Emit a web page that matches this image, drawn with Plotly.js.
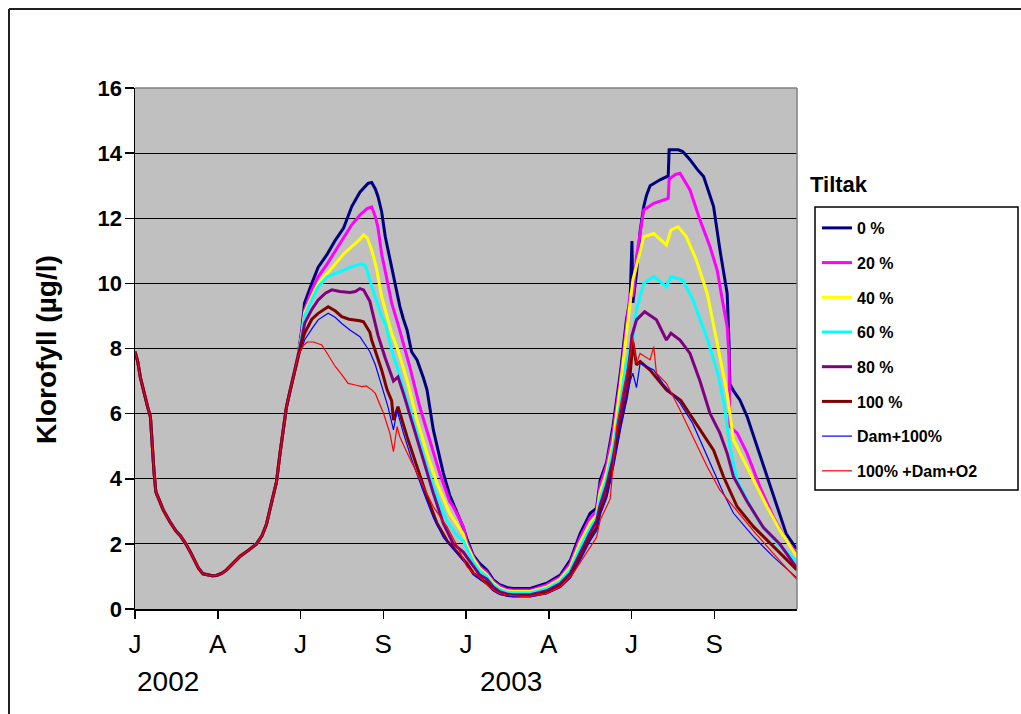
<!DOCTYPE html>
<html>
<head>
<meta charset="utf-8">
<script src="https://cdn.plot.ly/plotly-3.0.1.min.js"></script>
<style>
  html, body { margin: 0; padding: 0; background: #ffffff; }
  #chart { width: 1021px; height: 714px; }
</style>
</head>
<body>
<div id="chart"></div>
<script>
// ---- Data (day index from 1 Jan 2002; values in µg/l) ----
// Shared start (all scenarios identical before divergence)
const earlyDays = [0,3,6,10,14,17,19,21,23,27,31,38,45,50,56,62,66,70,75,80,85,90,96,101,108,116,125,134,140,145,150,156,160,164,167,171,176,180];
const earlyVals = [7.9,7.6,7.1,6.6,6.2,5.9,5.0,4.2,3.6,3.3,3.05,2.7,2.4,2.25,2.0,1.7,1.45,1.25,1.08,1.04,1.02,1.03,1.1,1.2,1.4,1.62,1.8,2.0,2.25,2.6,3.2,3.9,4.8,5.6,6.2,6.7,7.3,7.8];

const days0 = [184,187,195,202,212,221,230,239,248,257,261,265,268,272,276,282,287,292,296,300,305,311,318,322,329,333,340,347,355,362,366,373,380,388,395,402,410,417,436,454,469,480,491,502,509,513,520,527,535,542,546,548,549,553,557,561,564,568,579,588,589,599,604,612,620,627,634,638,645,647,653,655,656,660,667,675,686,697,708,718,728,730];
const vals0 = [8.6,9.4,10.0,10.5,10.9,11.33,11.7,12.36,12.8,13.07,13.1,12.9,12.66,12.2,11.43,10.6,9.9,9.3,8.9,8.57,7.9,7.65,7.1,6.73,5.5,5.0,4.17,3.5,2.95,2.5,2.15,1.65,1.4,1.2,0.9,0.75,0.66,0.63,0.63,0.79,1.04,1.5,2.32,2.94,3.1,3.96,4.5,5.6,7.2,8.9,9.5,11.3,9.4,10.31,11.6,12.36,12.7,13.0,13.18,13.3,14.1,14.1,14.05,13.8,13.5,13.28,12.7,12.36,11.03,10.72,9.69,8.2,6.9,6.7,6.42,5.91,4.98,4.06,3.14,2.32,1.9,1.85];

const days20 = [184,187,195,202,212,221,230,239,248,256,261,265,268,272,278,283,290,294,298,303,314,325,336,347,351,362,366,373,380,388,395,402,410,417,436,454,469,480,491,502,509,513,520,527,535,542,546,549,553,561,572,588,589,596,601,612,623,634,642,647,653,655,656,664,675,689,704,718,730];
const vals20 = [8.5,9.18,9.8,10.2,10.6,11.0,11.4,11.8,12.1,12.3,12.35,12.05,11.7,10.9,10.1,9.4,8.75,8.36,7.95,7.44,6.21,5.19,4.17,3.3,3.14,2.53,2.05,1.6,1.3,1.12,0.85,0.7,0.6,0.58,0.58,0.74,0.98,1.4,2.2,2.8,3.0,3.8,4.4,5.4,7.0,8.7,9.7,9.6,10.82,12.25,12.46,12.61,13.2,13.35,13.38,12.87,11.95,11.13,10.4,9.6,8.67,7.75,5.6,5.4,4.78,3.76,2.83,2.12,1.71];

const days40 = [184,187,195,202,212,221,230,239,248,252,256,261,266,272,278,283,290,294,301,311,322,333,347,355,362,366,373,380,388,395,402,410,417,436,454,469,480,491,502,509,513,520,527,535,542,549,561,572,586,591,599,608,619,631,642,653,660,671,682,697,711,730];
const vals40 = [8.4,9.09,9.6,10.0,10.3,10.6,10.9,11.13,11.35,11.49,11.4,11.03,10.5,9.59,9.0,8.47,7.95,7.6,6.93,5.8,4.78,3.86,2.94,2.6,2.3,1.95,1.55,1.25,1.05,0.8,0.65,0.56,0.54,0.54,0.68,0.92,1.3,2.05,2.65,2.9,3.6,4.2,5.1,6.8,8.5,10.1,11.43,11.53,11.18,11.64,11.74,11.43,10.72,9.69,8.16,6.62,5.19,4.58,3.96,3.14,2.43,1.6];

const days60 = [184,187,195,202,212,221,230,239,250,254,259,265,272,276,283,290,300,311,322,333,344,355,362,366,373,380,388,395,402,410,417,436,454,469,480,491,502,509,513,520,527,535,542,549,553,561,572,586,591,604,615,631,642,649,653,656,664,675,689,708,730];
const vals60 = [8.4,9.0,9.5,9.9,10.2,10.31,10.4,10.51,10.6,10.55,10.1,9.6,8.98,8.77,7.95,7.34,6.42,5.4,4.37,3.45,2.7,2.25,2.1,1.85,1.45,1.18,1.0,0.75,0.6,0.52,0.5,0.5,0.63,0.86,1.2,1.9,2.5,2.8,3.4,4.0,4.9,6.3,7.6,8.26,9.2,10.0,10.21,9.9,10.21,10.1,9.5,8.3,7.3,6.4,5.6,4.98,3.96,3.35,2.63,2.02,1.45];

const days80 = [184,187,195,202,210,217,226,237,243,248,252,259,268,276,281,285,290,296,307,318,329,340,351,362,366,373,380,388,395,402,410,417,436,454,469,480,491,502,509,513,520,527,535,542,546,548,553,562,575,586,591,601,612,623,634,645,653,660,675,693,711,730];
const vals80 = [8.3,8.77,9.2,9.49,9.7,9.8,9.75,9.72,9.75,9.84,9.8,9.45,8.4,7.7,7.3,7.0,7.13,6.62,5.6,4.58,3.55,2.63,2.0,1.75,1.6,1.3,1.05,0.92,0.68,0.53,0.46,0.44,0.44,0.56,0.78,1.1,1.75,2.35,2.7,3.2,3.8,4.6,5.9,7.0,7.8,8.4,8.88,9.13,8.88,8.26,8.47,8.26,7.85,7.0,6.01,5.4,4.78,4.06,3.3,2.5,2.0,1.25];

const days100 = [184,187,195,202,213,221,228,236,243,248,252,259,261,270,272,278,283,285,290,300,311,322,333,344,355,366,373,380,388,395,402,410,417,436,454,469,480,491,502,509,513,520,527,535,542,546,549,553,557,568,586,602,623,638,649,664,682,704,730];
const vals100 = [8.2,8.47,8.9,9.08,9.28,9.15,8.98,8.9,8.88,8.85,8.82,8.5,8.26,7.55,7.34,6.73,6.4,5.8,6.21,5.29,4.37,3.45,2.63,2.1,1.75,1.4,1.1,0.95,0.8,0.6,0.48,0.42,0.4,0.4,0.5,0.7,1.0,1.6,2.2,2.5,3.0,3.5,4.4,5.6,6.5,7.2,8.2,7.5,7.6,7.34,6.73,6.4,5.5,4.88,4.06,3.14,2.53,1.91,1.2];

const daysDam = [184,187,195,202,213,221,228,237,248,259,265,270,279,285,289,296,305,318,329,340,355,366,373,380,388,395,402,410,417,436,454,469,480,491,502,509,513,520,527,535,542,546,549,553,557,572,582,601,615,631,649,660,682,704,730];
const valsDam = [8.0,8.26,8.6,8.88,9.08,8.95,8.77,8.57,8.36,7.9,7.5,7.03,6.21,5.5,6.1,5.4,4.6,3.6,2.8,2.2,1.7,1.35,1.05,0.9,0.75,0.56,0.45,0.4,0.38,0.38,0.47,0.66,0.95,1.5,2.1,2.4,2.9,3.4,4.3,5.5,6.4,7.0,7.24,6.8,7.55,7.34,6.93,6.32,5.7,4.68,3.55,2.94,2.22,1.6,0.95];

const daysO2 = [186,190,197,206,213,221,228,235,243,250,255,261,265,274,281,285,289,292,300,311,322,329,344,355,366,373,380,388,395,402,410,432,454,469,483,498,509,513,524,531,538,546,549,553,557,568,572,575,586,601,615,631,645,660,682,704,730];
const valsO2 = [8.1,8.2,8.2,8.11,7.8,7.44,7.2,6.93,6.88,6.83,6.85,6.73,6.62,6.01,5.4,4.83,5.6,5.29,4.8,4.17,3.5,3.14,2.53,1.95,1.3,1.1,0.99,0.75,0.58,0.48,0.43,0.38,0.48,0.68,1.09,1.71,2.2,2.73,3.38,5.58,6.67,7.77,8.32,7.55,7.85,7.65,8.06,7.24,6.93,6.11,5.29,4.37,3.65,3.14,2.4,1.7,0.9];

const seriesNames = ['0 %','20 %','40 %','60 %','80 %','100 %','Dam+100%','100% +Dam+O2'];
const seriesColors = ['#000080','#FF00FF','#FFFF00','#00FFFF','#800080','#800000','#0000FF','#FF0000'];
const seriesWidths = [3,3,3,3,3,3,1.2,1.2];
const seriesDays = [days0,days20,days40,days60,days80,days100,daysDam,daysO2];
const seriesVals = [vals0,vals20,vals40,vals60,vals80,vals100,valsDam,valsO2];

const tickDays = [0,91.25,182.5,273.75,365,456.25,547.5,638.75];
const tickLabels = ['J','A','J','S','J','A','J','S'];
const yearLabels = ['2002','2003'];

// ---- Geometry helpers (pixel -> paper) ----
const W = 1021, H = 714;
const M = {l:135, r:224, t:88, b:105};
const pw = W - M.l - M.r, ph = H - M.t - M.b;
const px = x => (x - M.l) / pw;
const py = y => (H - M.b - y) / ph;

const FONT = 'Arial, "Liberation Sans", sans-serif';

const traces = seriesNames.map((n, i) => ({
  type: 'scatter',
  mode: 'lines',
  name: n,
  x: earlyDays.concat(seriesDays[i]),
  y: earlyVals.concat(seriesVals[i]),
  line: {color: seriesColors[i], width: seriesWidths[i]},
  legendgroup: 'g' + i,
  hoverinfo: 'skip'
}));

const layout = {
  width: W, height: H,
  margin: M,
  paper_bgcolor: '#ffffff',
  plot_bgcolor: '#C0C0C0',
  font: {family: FONT, color: '#000000'},
  showlegend: true,
  legend: {
    x: px(817), y: py(211), xanchor: 'left', yanchor: 'top',
    bgcolor: 'rgba(0,0,0,0)', borderwidth: 0,
    font: {family: FONT, size: 16, weight: 'bold', color: '#000'},
    traceorder: 'grouped', tracegroupgap: 10.9,
    itemwidth: 30
  },
  xaxis: {
    range: [0, 730],
    tickmode: 'array', tickvals: tickDays, ticktext: tickLabels,
    ticks: 'outside', ticklen: 8, tickwidth: 1.5, tickcolor: '#000',
    showline: true, linecolor: '#000', linewidth: 1.5,
    showgrid: false, zeroline: false,
    tickfont: {family: FONT, size: 26, color: '#000'},
    ticklabelstandoff: 3,
    fixedrange: true
  },
  yaxis: {
    range: [0, 16], dtick: 2, tick0: 0,
    ticks: 'outside', ticklen: 9, tickwidth: 1.5, tickcolor: '#000',
    showline: true, linecolor: '#000', linewidth: 1.5,
    showgrid: true, gridcolor: '#000000', gridwidth: 1.2,
    zeroline: false,
    tickfont: {family: FONT, size: 22, weight: 'bold', color: '#000'},
    ticklabelstandoff: -2,
    fixedrange: true
  },
  shapes: [
    // plot area border (top, right) in grey
    {type:'line', xref:'paper', yref:'paper', x0:0, x1:1, y0:1, y1:1, line:{color:'#808080', width:1.5}},
    {type:'line', xref:'paper', yref:'paper', x0:1, x1:1, y0:0, y1:1, line:{color:'#808080', width:1.5}},
    // chart area border (left, top)
    {type:'line', xref:'paper', yref:'paper', x0:px(9), x1:px(9), y0:py(9), y1:py(720), line:{color:'#202020', width:2}},
    {type:'line', xref:'paper', yref:'paper', x0:px(9), x1:px(1030), y0:py(9), y1:py(9), line:{color:'#202020', width:2}},
    // legend box
    {type:'rect', xref:'paper', yref:'paper', x0:px(815), x1:px(1018), y0:py(490), y1:py(207), line:{color:'#000', width:1.5}, fillcolor:'rgba(0,0,0,0)'}
  ],
  annotations: [
    {text:'Klorofyll (µg/l)', xref:'paper', yref:'paper', x:px(46), y:py(350), xanchor:'center', yanchor:'middle',
     textangle:-90, showarrow:false, font:{family:FONT, size:28, weight:'bold', color:'#000'}},
    {text:yearLabels[0], xref:'paper', yref:'paper', x:px(168), y:py(681), xanchor:'center', yanchor:'middle',
     showarrow:false, font:{family:FONT, size:28, color:'#000'}},
    {text:yearLabels[1], xref:'paper', yref:'paper', x:px(511), y:py(681), xanchor:'center', yanchor:'middle',
     showarrow:false, font:{family:FONT, size:28, color:'#000'}},
    {text:'Tiltak', xref:'paper', yref:'paper', x:px(808), y:py(185), xanchor:'left', yanchor:'middle',
     showarrow:false, font:{family:FONT, size:22, weight:'bold', color:'#000'}}
  ]
};

Plotly.newPlot('chart', traces, layout, {staticPlot: true, displayModeBar: false});
</script>
</body>
</html>
